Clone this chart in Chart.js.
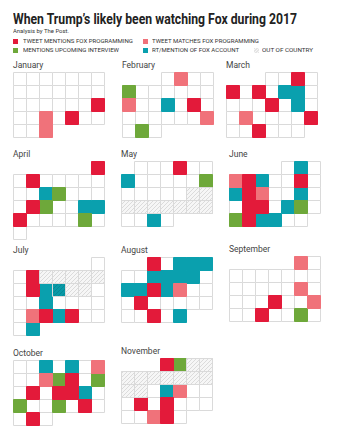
<!DOCTYPE html>
<html>
<head>
<meta charset="utf-8">
<script src="https://cdn.jsdelivr.net/npm/chart.js@4"></script>
<style>
  body { margin: 0; width: 351px; height: 438px; background: #fff; position: relative; overflow: hidden; font-family: Roboto, "Liberation Sans", sans-serif; }
  .txt { position: absolute; white-space: nowrap; transform-origin: 0 50%; display: inline-block; }
  #title { left: 13px; top: 11px; font-size: 14px; line-height: 16px; font-weight: bold; color: #222; }
  #sub { left: 13px; top: 28px; font-size: 6px; line-height: 6px; color: #333; }
  .leg { font-size: 6px; line-height: 6px; color: #333; }
  .sq { position: absolute; width: 5px; height: 5px; }
  .mlabel { position: absolute; font-size: 8.5px; line-height: 9px; color: #444; }
  canvas { position: absolute; }
</style>
</head>
<body>
<div id="title" class="txt" data-w="284">When Trump’s likely been watching Fox during 2017</div>
<div id="sub" class="txt" data-w="56">Analysis by The Post.</div>
<div id="legend"></div>
<div id="months"></div>
<script>
const monthNames = ['January', 'February', 'March', 'April', 'May', 'June', 'July', 'August', 'September', 'October', 'November'];

// days per category
const mentionsProgramming = ['2017-01-21', '2017-01-26', '2017-02-17', '2017-03-03', '2017-03-05', '2017-03-07', '2017-03-15', '2017-03-25', '2017-03-28',
  '2017-04-01', '2017-04-03', '2017-04-17', '2017-04-23', '2017-05-04', '2017-06-05', '2017-06-09', '2017-06-12', '2017-06-19', '2017-06-20', '2017-06-26',
  '2017-07-03', '2017-07-10', '2017-07-25', '2017-07-27', '2017-08-01', '2017-08-15', '2017-08-21', '2017-08-29', '2017-09-20', '2017-09-26',
  '2017-10-12', '2017-10-16', '2017-10-18', '2017-10-19', '2017-10-27', '2017-10-30', '2017-11-01', '2017-11-20', '2017-11-22', '2017-11-29'];
const matchesProgramming = ['2017-01-24', '2017-01-31', '2017-02-02', '2017-02-12', '2017-02-25', '2017-03-20', '2017-06-04', '2017-06-13', '2017-07-24',
  '2017-08-17', '2017-09-01', '2017-09-15', '2017-09-23', '2017-10-07', '2017-10-10', '2017-11-16', '2017-11-28'];
const upcomingInterview = ['2017-02-05', '2017-02-27', '2017-04-12', '2017-04-18', '2017-04-28', '2017-05-13', '2017-06-23', '2017-06-25', '2017-09-29',
  '2017-10-11', '2017-10-14', '2017-10-22', '2017-10-25', '2017-11-02'];
const foxAccount = ['2017-02-15', '2017-03-09', '2017-03-10', '2017-03-17', '2017-04-11', '2017-04-21', '2017-04-22', '2017-05-07', '2017-05-30',
  '2017-06-02', '2017-06-06', '2017-06-11', '2017-06-16', '2017-06-22', '2017-06-27', '2017-06-28', '2017-07-11', '2017-07-12', '2017-07-18',
  '2017-07-26', '2017-07-31', '2017-08-03', '2017-08-04', '2017-08-05', '2017-08-08', '2017-08-09', '2017-08-10', '2017-08-11', '2017-08-13',
  '2017-08-14', '2017-08-16', '2017-08-31', '2017-10-03', '2017-10-05', '2017-10-20', '2017-11-15'];
const outOfCountry = ['2017-05-19', '2017-05-20', '2017-05-21', '2017-05-22', '2017-05-23', '2017-05-24', '2017-05-25', '2017-05-26', '2017-05-27',
  '2017-07-04', '2017-07-05', '2017-07-06', '2017-07-07', '2017-07-08', '2017-07-12', '2017-07-13', '2017-07-14',
  '2017-11-03', '2017-11-04', '2017-11-05', '2017-11-06', '2017-11-07', '2017-11-08', '2017-11-09', '2017-11-10', '2017-11-11', '2017-11-12', '2017-11-13'];

const legendLabels = ['TWEET MENTIONS FOX PROGRAMMING', 'TWEET MATCHES FOX PROGRAMMING', 'MENTIONS UPCOMING INTERVIEW', 'RT/MENTION OF FOX ACCOUNT', 'OUT OF COUNTRY'];

const RED = '#e31a3a', PINK = '#f0727a', GREEN = '#6ea83a', TEAL = '#0aa0ae', GRID = '#dadada';
const CELL = 13;
const monthLeft = [13, 122, 226, 13, 121, 229, 13, 121, 229, 13, 121];
const monthTop = [72, 72, 72, 161, 161, 161, 257, 257, 256, 360, 358];

// hatch pattern for days abroad
const pc = document.createElement('canvas');
pc.width = pc.height = 4;
const g = pc.getContext('2d');
g.fillStyle = 'rgba(0,0,0,0.035)';
g.fillRect(0, 0, 4, 4);
g.strokeStyle = 'rgba(0,0,0,0.11)';
g.lineWidth = 1;
g.beginPath();
g.moveTo(0, 4); g.lineTo(4, 0);
g.moveTo(-1, 1); g.lineTo(1, -1);
g.moveTo(3, 5); g.lineTo(5, 3);
g.stroke();
const hatch = g.createPattern(pc, 'repeat');

// legend
const legendItems = [
  { c: RED, sx: 13, tx: 23, y: 41, w: 110 },
  { c: PINK, sx: 143, tx: 152, y: 41, w: 107 },
  { c: GREEN, sx: 13, tx: 23, y: 50, w: 96 },
  { c: TEAL, sx: 143, tx: 152, y: 50, w: 87 },
  { c: 'hatch', sx: 254, tx: 262, y: 50, w: 51 }
];
const leg = document.getElementById('legend');
legendItems.forEach((it, i) => {
  const sq = document.createElement('div');
  sq.className = 'sq';
  sq.style.left = it.sx + 'px';
  sq.style.top = (it.y - 2.5) + 'px';
  if (it.c === 'hatch') sq.style.background = 'repeating-linear-gradient(135deg,#e4e4e4 0 1px,#f7f7f7 1px 2px)';
  else sq.style.background = it.c;
  leg.appendChild(sq);
  const t = document.createElement('div');
  t.className = 'txt leg';
  t.dataset.w = it.w;
  t.style.left = it.tx + 'px';
  t.style.top = (it.y - 3) + 'px';
  t.textContent = legendLabels[i];
  leg.appendChild(t);
});

document.querySelectorAll('.txt').forEach(el => {
  const w = el.getBoundingClientRect().width;
  el.style.transform = `scaleX(${el.dataset.w / w})`;
});

const parse = s => { const p = s.split('-').map(Number); return { m: p[1] - 1, d: p[2] }; };

const holder = document.getElementById('months');
monthNames.forEach((name, m) => {
  const first = new Date(2017, m, 1).getDay();
  const days = new Date(2017, m + 1, 0).getDate();
  const rows = Math.ceil((first + days) / 7);
  const cell = d => ({ x: (first + d - 1) % 7, y: Math.floor((first + d - 1) / 7) });
  const pick = arr => arr.map(parse).filter(p => p.m === m).map(p => cell(p.d));
  const allDays = [];
  for (let d = 1; d <= days; d++) allDays.push(cell(d));

  const lab = document.createElement('div');
  lab.className = 'mlabel';
  lab.textContent = name;
  lab.style.left = monthLeft[m] + 'px';
  lab.style.top = (monthTop[m] - 11.5) + 'px';
  holder.appendChild(lab);

  const cv = document.createElement('canvas');
  cv.width = 7 * CELL + 1;
  cv.height = rows * CELL + 1;
  cv.style.left = monthLeft[m] + 'px';
  cv.style.top = monthTop[m] + 'px';
  holder.appendChild(cv);

  const r = CELL / 2 * Math.SQRT2;
  const ds = (data, fill, border) => ({
    data, pointStyle: 'rect', pointRadius: r, pointHoverRadius: r,
    pointBackgroundColor: fill, pointBorderColor: border, pointBorderWidth: 1, clip: false
  });

  new Chart(cv, {
    type: 'scatter',
    data: {
      datasets: [
        ds(pick(outOfCountry), hatch, GRID),
        ds(pick(mentionsProgramming), RED, RED),
        ds(pick(matchesProgramming), PINK, PINK),
        ds(pick(upcomingInterview), GREEN, GREEN),
        ds(pick(foxAccount), TEAL, TEAL),
        ds(allDays, '#ffffff', GRID)
      ]
    },
    options: {
      responsive: false,
      animation: false,
      events: [],
      layout: { autoPadding: false, padding: { left: 0.5, right: 0.5, top: 0.5, bottom: 0.5 } },
      scales: {
        x: { type: 'linear', min: -0.5, max: 6.5, display: false },
        y: { type: 'linear', min: -0.5, max: rows - 0.5, reverse: true, display: false }
      },
      plugins: { legend: { display: false }, tooltip: { enabled: false } }
    }
  });
});
</script>
</body>
</html>
